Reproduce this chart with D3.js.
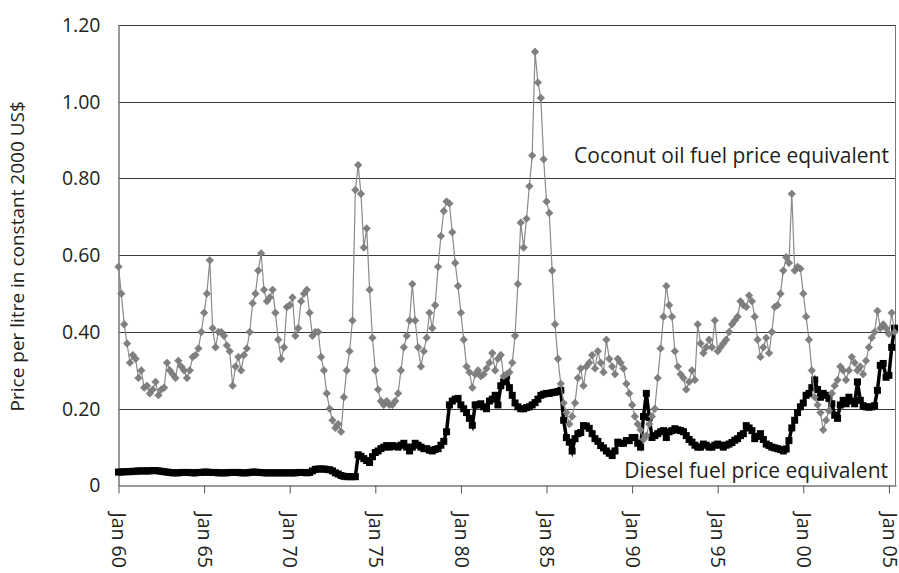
<!DOCTYPE html>
<html>
<head>
<meta charset="utf-8">
<title>Coconut oil vs diesel fuel price</title>
<script src="https://cdn.jsdelivr.net/npm/d3@7"></script>
<style>
  body { margin: 0; background: #fff; }
  svg text { font-family: "Open Sans", "Noto Sans", sans-serif; fill: #231f20; }
</style>
</head>
<body>
<script>
// bimonthly readings (Jan, Mar, May, Jul, Sep, Nov), Jan 1960 .. May 2005
const startYear = 1960;
const stepMonths = 2;

const coconut = [
  0.57, 0.50, 0.42, 0.37, 0.32, 0.34,   // 1960
  0.33, 0.28, 0.30, 0.255, 0.26, 0.24,  // 1961
  0.25, 0.27, 0.235, 0.25, 0.255, 0.32, // 1962
  0.30, 0.29, 0.28, 0.325, 0.31, 0.30,  // 1963
  0.28, 0.30, 0.335, 0.34, 0.357, 0.40, // 1964
  0.45, 0.50, 0.587, 0.41, 0.36, 0.40,  // 1965
  0.40, 0.39, 0.365, 0.35, 0.26, 0.31,  // 1966
  0.335, 0.30, 0.34, 0.357, 0.40, 0.475,// 1967
  0.50, 0.56, 0.605, 0.51, 0.48, 0.49,  // 1968
  0.51, 0.45, 0.38, 0.33, 0.36, 0.465,  // 1969
  0.47, 0.49, 0.39, 0.41, 0.48, 0.50,   // 1970
  0.51, 0.45, 0.39, 0.40, 0.40, 0.335,  // 1971
  0.30, 0.24, 0.20, 0.17, 0.15, 0.16,   // 1972
  0.14, 0.23, 0.30, 0.35, 0.43, 0.77,   // 1973
  0.835, 0.76, 0.62, 0.67, 0.51, 0.385, // 1974
  0.30, 0.25, 0.22, 0.21, 0.22, 0.21,   // 1975
  0.21, 0.22, 0.24, 0.30, 0.36, 0.39,   // 1976
  0.43, 0.525, 0.43, 0.36, 0.31, 0.35,  // 1977
  0.385, 0.45, 0.41, 0.47, 0.57, 0.65,  // 1978
  0.715, 0.74, 0.735, 0.66, 0.58, 0.52, // 1979
  0.45, 0.38, 0.31, 0.295, 0.255, 0.29, // 1980
  0.30, 0.285, 0.29, 0.305, 0.32, 0.345,// 1981
  0.30, 0.33, 0.34, 0.285, 0.29, 0.295, // 1982
  0.32, 0.39, 0.525, 0.685, 0.62, 0.695,// 1983
  0.78, 0.86, 1.13, 1.05, 1.01, 0.85,   // 1984
  0.74, 0.71, 0.56, 0.42, 0.33, 0.265,  // 1985
  0.215, 0.19, 0.16, 0.18, 0.215, 0.28, // 1986
  0.305, 0.26, 0.31, 0.32, 0.34, 0.305, // 1987
  0.35, 0.32, 0.295, 0.38, 0.33, 0.31,  // 1988
  0.29, 0.33, 0.32, 0.305, 0.265, 0.24, // 1989
  0.21, 0.18, 0.16, 0.145, 0.12, 0.13,  // 1990
  0.16, 0.18, 0.20, 0.28, 0.357, 0.44,  // 1991
  0.52, 0.47, 0.44, 0.35, 0.31, 0.29,   // 1992
  0.28, 0.25, 0.27, 0.30, 0.275, 0.42,  // 1993
  0.37, 0.345, 0.36, 0.38, 0.36, 0.43,  // 1994
  0.35, 0.36, 0.37, 0.38, 0.40, 0.42,   // 1995
  0.43, 0.44, 0.48, 0.47, 0.465, 0.495, // 1996
  0.48, 0.44, 0.38, 0.335, 0.36, 0.385, // 1997
  0.345, 0.40, 0.465, 0.47, 0.50, 0.56, // 1998
  0.595, 0.58, 0.76, 0.56, 0.57, 0.565, // 1999
  0.50, 0.44, 0.38, 0.30, 0.23, 0.21,   // 2000
  0.19, 0.145, 0.17, 0.195, 0.24, 0.26, // 2001
  0.275, 0.31, 0.30, 0.275, 0.30, 0.335,// 2002
  0.32, 0.30, 0.31, 0.29, 0.325, 0.36,  // 2003
  0.385, 0.40, 0.455, 0.41, 0.42, 0.41, // 2004
  0.395, 0.45, 0.40                     // 2005
];

const diesel = [
  0.035, 0.035, 0.036, 0.036, 0.036, 0.037, // 1960
  0.037, 0.038, 0.038, 0.038, 0.038, 0.038, // 1961
  0.039, 0.039, 0.038, 0.037, 0.036, 0.035, // 1962
  0.034, 0.033, 0.033, 0.033, 0.034, 0.034, // 1963
  0.034, 0.034, 0.033, 0.033, 0.034, 0.034, // 1964
  0.035, 0.035, 0.034, 0.034, 0.034, 0.033, // 1965
  0.033, 0.033, 0.033, 0.034, 0.034, 0.034, // 1966
  0.034, 0.033, 0.033, 0.033, 0.034, 0.035, // 1967
  0.035, 0.034, 0.034, 0.033, 0.033, 0.033, // 1968
  0.033, 0.033, 0.033, 0.033, 0.033, 0.033, // 1969
  0.033, 0.033, 0.033, 0.034, 0.034, 0.034, // 1970
  0.033, 0.034, 0.038, 0.042, 0.043, 0.043, // 1971
  0.043, 0.042, 0.041, 0.038, 0.033, 0.030, // 1972
  0.026, 0.024, 0.023, 0.023, 0.023, 0.023, // 1973
  0.080, 0.076, 0.070, 0.065, 0.060, 0.075, // 1974
  0.086, 0.090, 0.096, 0.100, 0.104, 0.100, // 1975
  0.104, 0.102, 0.100, 0.105, 0.110, 0.100, // 1976
  0.090, 0.100, 0.110, 0.105, 0.100, 0.096, // 1977
  0.096, 0.092, 0.090, 0.094, 0.096, 0.105, // 1978
  0.115, 0.140, 0.210, 0.220, 0.225, 0.227, // 1979
  0.210, 0.200, 0.190, 0.175, 0.157, 0.210, // 1980
  0.210, 0.213, 0.205, 0.200, 0.220, 0.225, // 1981
  0.235, 0.210, 0.260, 0.270, 0.285, 0.255, // 1982
  0.235, 0.215, 0.205, 0.200, 0.200, 0.203, // 1983
  0.205, 0.210, 0.216, 0.225, 0.235, 0.238, // 1984
  0.240, 0.240, 0.242, 0.243, 0.245, 0.248, // 1985
  0.170, 0.125, 0.113, 0.090, 0.122, 0.135, // 1986
  0.138, 0.156, 0.155, 0.149, 0.135, 0.122, // 1987
  0.115, 0.104, 0.098, 0.090, 0.084, 0.078, // 1988
  0.090, 0.113, 0.110, 0.110, 0.117, 0.117, // 1989
  0.125, 0.125, 0.110, 0.100, 0.180, 0.240, // 1990
  0.177, 0.125, 0.130, 0.135, 0.140, 0.143, // 1991
  0.125, 0.140, 0.143, 0.148, 0.145, 0.143, // 1992
  0.140, 0.130, 0.120, 0.113, 0.105, 0.100, // 1993
  0.100, 0.108, 0.105, 0.100, 0.100, 0.105, // 1994
  0.108, 0.105, 0.100, 0.105, 0.108, 0.112, // 1995
  0.118, 0.122, 0.130, 0.135, 0.156, 0.150, // 1996
  0.143, 0.122, 0.128, 0.135, 0.120, 0.108, // 1997
  0.104, 0.100, 0.098, 0.096, 0.094, 0.090, // 1998
  0.095, 0.117, 0.150, 0.170, 0.190, 0.205, // 1999
  0.215, 0.235, 0.240, 0.255, 0.275, 0.250, // 2000
  0.230, 0.240, 0.235, 0.227, 0.213, 0.183, // 2001
  0.175, 0.210, 0.222, 0.213, 0.230, 0.220, // 2002
  0.213, 0.270, 0.222, 0.208, 0.205, 0.204, // 2003
  0.205, 0.208, 0.248, 0.313, 0.318, 0.282, // 2004
  0.287, 0.360, 0.410                       // 2005
];

const yTicks = [0, 0.2, 0.4, 0.6, 0.8, 1.0, 1.2];
const xTickYears = [1960, 1965, 1970, 1975, 1980, 1985, 1990, 1995, 2000, 2005];

const dates = coconut.map((d, i) => new Date(startYear, i * stepMonths, 1));

const width = 899, height = 573;
const margin = { left: 118.5, right: 3, top: 25, bottom: 87.5 };

const svg = d3.select("body").append("svg")
    .attr("width", width)
    .attr("height", height);

const x = d3.scaleTime()
    .domain([new Date(1960, 0, 1), new Date(2005, 5, 1)])
    .range([margin.left, width - margin.right]);

const y = d3.scaleLinear()
    .domain([0, 1.2])
    .range([height - margin.bottom, margin.top]);

// gridlines
svg.append("g")
    .selectAll("line")
    .data(yTicks.filter(d => d > 0))
    .join("line")
    .attr("x1", margin.left)
    .attr("x2", width - margin.right)
    .attr("y1", d => Math.round(y(d)) + 0.5)
    .attr("y2", d => Math.round(y(d)) + 0.5)
    .attr("stroke", "#3a3a3a")
    .attr("stroke-width", 1);

// right frame
svg.append("line")
    .attr("x1", width - margin.right - 0.5)
    .attr("x2", width - margin.right - 0.5)
    .attr("y1", y(1.2))
    .attr("y2", y(0))
    .attr("stroke", "#777");

// y axis
const yAxis = d3.axisLeft(y)
    .tickValues(yTicks)
    .tickSize(0)
    .tickPadding(18)
    .tickFormat(d => d === 0 ? "0" : d3.format(".2f")(d));

svg.append("g")
    .attr("transform", "translate(" + margin.left + ",0)")
    .call(yAxis)
    .call(g => g.select(".domain").attr("stroke", "#777").attr("stroke-width", 1.5))
    .call(g => g.selectAll("text")
        .style("font-size", "19.5px")
        .attr("fill", "#231f20"));

// x axis
const xAxis = d3.axisBottom(x)
    .tickValues(xTickYears.map(yr => new Date(yr, 0, 1)))
    .tickSize(8)
    .tickSizeOuter(0)
    .tickFormat(d => "Jan " + d3.timeFormat("%y")(d));

svg.append("g")
    .attr("transform", "translate(0," + y(0) + ")")
    .call(xAxis)
    .call(g => g.select(".domain").attr("stroke", "#777").attr("stroke-width", 1.5))
    .call(g => g.selectAll(".tick line").attr("stroke", "#555"))
    .call(g => g.selectAll("text")
        .style("font-size", "19.5px")
        .attr("fill", "#231f20")
        .attr("text-anchor", "start")
        .attr("dy", "0.3em")
        .attr("transform", "translate(-1,27) rotate(90)")
        .attr("x", 0)
        .attr("y", 0));

// y axis title
svg.append("text")
    .attr("transform", "translate(24," + (y(0.6) + 1) + ") rotate(-90)")
    .attr("text-anchor", "middle")
    .style("font-size", "19px")
    .text("Price per litre in constant 2000 US$");

const coconutData = dates.map((d, i) => [d, coconut[i]]);
const dieselData = dates.map((d, i) => [d, diesel[i]]);

const line = d3.line()
    .x(d => x(d[0]))
    .y(d => y(d[1]));

// diesel series
svg.append("path")
    .datum(dieselData)
    .attr("fill", "none")
    .attr("stroke", "#000")
    .attr("stroke-width", 3.5)
    .attr("d", line);

svg.append("g")
    .selectAll("rect")
    .data(dieselData)
    .join("rect")
    .attr("x", d => x(d[0]) - 3.5)
    .attr("y", d => y(d[1]) - 3.5)
    .attr("width", 7)
    .attr("height", 7)
    .attr("fill", "#000");

// coconut series
svg.append("path")
    .datum(coconutData)
    .attr("fill", "none")
    .attr("stroke", "#8a8a8a")
    .attr("stroke-width", 1.2)
    .attr("d", line);

const diamond = "M0,-3.8L3.8,0L0,3.8L-3.8,0Z";
svg.append("g")
    .selectAll("path")
    .data(coconutData)
    .join("path")
    .attr("d", diamond)
    .attr("transform", d => "translate(" + x(d[0]) + "," + y(d[1]) + ")")
    .attr("fill", "#808080")
    .attr("stroke", "#6a6a6a")
    .attr("stroke-width", 0.5);

// series labels
svg.append("text")
    .attr("x", 889)
    .attr("y", y(0.84))
    .attr("text-anchor", "end")
    .style("font-size", "21px")
    .text("Coconut oil fuel price equivalent");

svg.append("text")
    .attr("x", 888)
    .attr("y", y(0) - 8)
    .attr("text-anchor", "end")
    .style("font-size", "21px")
    .text("Diesel fuel price equivalent");
</script>
</body>
</html>
